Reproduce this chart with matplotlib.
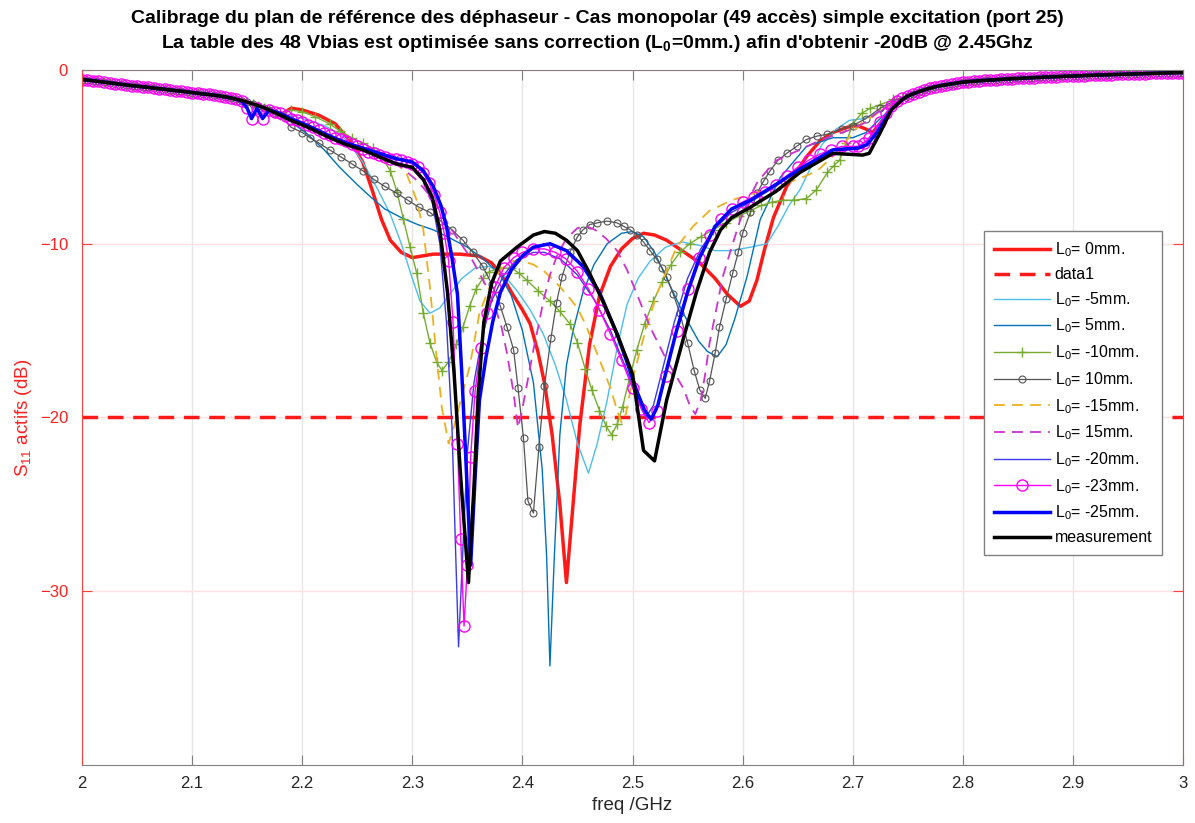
import numpy as np
import matplotlib
matplotlib.use('Agg')
import matplotlib.pyplot as plt
from matplotlib.ticker import FormatStrFormatter

plt.rcParams['font.family'] = ['Liberation Sans', 'DejaVu Sans']
plt.rcParams['mathtext.default'] = 'regular'

# partie commune a toutes les courbes (hors bande), pas de 5 MHz
f_left = np.round(np.arange(2.0, 2.1801, 0.005), 3)
s_left = [-0.55, -0.58, -0.62, -0.66, -0.7, -0.74, -0.78, -0.82, -0.86, -0.9, -0.93,
          -0.97, -1.0, -1.04, -1.08, -1.11, -1.15, -1.19, -1.22, -1.26, -1.3,
          -1.34, -1.38, -1.41, -1.45, -1.5, -1.55, -1.61, -1.68, -1.76, -1.85,
          -1.95, -2.05, -2.17, -2.3, -2.45, -2.6]
f_right = np.round(np.arange(2.75, 3.0001, 0.005), 3)
s_right = [-1.5, -1.37, -1.25, -1.15, -1.05, -0.97, -0.9, -0.85, -0.8, -0.75, -0.7,
           -0.67, -0.65, -0.62, -0.6, -0.58, -0.56, -0.54, -0.52, -0.5, -0.49,
           -0.47, -0.46, -0.44, -0.43, -0.41, -0.4, -0.39, -0.37, -0.36, -0.35,
           -0.34, -0.32, -0.31, -0.3, -0.29, -0.28, -0.27, -0.26, -0.25, -0.24,
           -0.23, -0.22, -0.21, -0.2, -0.19, -0.18, -0.17, -0.16, -0.15, -0.15]

# zone active : (freq GHz, S11 dB)
L0_0 = [(2.19, -2.2), (2.2, -2.3), (2.215, -2.6), (2.23, -3.1), (2.245, -4.2), (2.255, -5.3),
        (2.264, -7.0), (2.272, -8.6), (2.28, -9.8), (2.29, -10.5), (2.3, -10.8), (2.319, -10.6),
        (2.343, -10.6), (2.36, -10.7), (2.372, -11.1), (2.382, -11.9), (2.391, -12.9), (2.4, -13.8),
        (2.407, -14.6), (2.414, -16.2), (2.42, -18.0), (2.427, -21.0), (2.434, -25.0), (2.44, -29.5),
        (2.446, -25.0), (2.452, -20.5), (2.461, -15.8), (2.47, -13.0), (2.48, -11.3), (2.49, -10.3),
        (2.5, -9.7), (2.51, -9.4), (2.52, -9.5), (2.531, -9.8), (2.545, -10.4), (2.561, -11.1),
        (2.575, -12.0), (2.586, -12.9), (2.598, -13.6), (2.606, -13.3), (2.613, -12.1), (2.62, -10.3),
        (2.628, -8.5), (2.64, -6.7), (2.658, -5.0), (2.67, -4.1), (2.682, -3.6), (2.695, -3.3),
        (2.704, -3.2), (2.712, -3.4), (2.718, -3.6), (2.726, -3.0), (2.734, -2.3), (2.745, -1.7)]

L0_m5 = [(2.19, -2.6), (2.2, -2.8), (2.22, -3.2), (2.235, -3.7), (2.245, -4.4), (2.255, -5.3),
         (2.268, -6.8), (2.28, -8.3), (2.29, -10.0), (2.3, -12.0), (2.307, -13.3), (2.316, -14.0),
         (2.325, -13.7), (2.334, -12.9), (2.345, -12.0), (2.357, -11.4), (2.37, -11.3), (2.383, -11.8),
         (2.395, -12.7), (2.407, -13.8), (2.419, -15.2), (2.43, -17.0), (2.44, -19.0), (2.45, -21.5),
         (2.46, -23.2), (2.468, -21.5), (2.477, -19.0), (2.486, -16.0), (2.495, -13.5), (2.505, -12.0),
         (2.516, -11.0), (2.53, -10.2), (2.545, -9.9), (2.561, -10.1), (2.575, -10.4), (2.59, -10.4),
         (2.607, -10.2), (2.622, -10.0), (2.632, -9.0), (2.642, -7.8), (2.652, -6.9), (2.662, -5.6),
         (2.672, -4.3), (2.685, -3.4), (2.697, -2.9), (2.71, -2.8), (2.725, -2.4), (2.74, -1.8)]

L0_5 = [(2.19, -3.0), (2.205, -3.7), (2.22, -4.6), (2.234, -5.6), (2.25, -6.6), (2.262, -7.3),
        (2.275, -8.0), (2.29, -8.5), (2.305, -8.9), (2.319, -9.2), (2.335, -9.7), (2.35, -10.2),
        (2.365, -10.9), (2.38, -11.8), (2.39, -13.0), (2.4, -15.0), (2.41, -18.0), (2.418, -23.0),
        (2.422, -28.0), (2.425, -34.3), (2.429, -28.0), (2.434, -21.0), (2.44, -17.0), (2.446, -15.0),
        (2.455, -12.8), (2.465, -11.2), (2.477, -10.0), (2.49, -9.4), (2.5, -9.3), (2.51, -9.6),
        (2.52, -10.5), (2.531, -12.0), (2.546, -14.0), (2.56, -15.6), (2.568, -16.2), (2.577, -16.5),
        (2.585, -15.8), (2.593, -14.3), (2.604, -11.9), (2.616, -8.6), (2.634, -6.2), (2.658, -4.4),
        (2.682, -3.9), (2.7, -3.9), (2.712, -3.6), (2.725, -2.8), (2.74, -1.9)]

L0_m10 = [(2.19, -2.3), (2.2, -2.4), (2.212, -2.7), (2.225, -3.1), (2.234, -3.5), (2.245, -3.9),
          (2.255, -4.2), (2.264, -4.5), (2.272, -5.0), (2.28, -5.8), (2.286, -7.0), (2.292, -8.6),
          (2.298, -10.2), (2.304, -11.7), (2.31, -14.0), (2.316, -15.7), (2.322, -16.8), (2.327, -17.3),
          (2.333, -16.8), (2.34, -15.8), (2.346, -14.8), (2.352, -13.6), (2.358, -12.6), (2.364, -12.0),
          (2.37, -11.6), (2.38, -11.4), (2.39, -11.4), (2.397, -11.7), (2.404, -12.1), (2.414, -12.7),
          (2.425, -13.3), (2.434, -13.9), (2.443, -14.6), (2.45, -15.7), (2.457, -17.2), (2.463, -18.4),
          (2.47, -19.6), (2.476, -20.5), (2.481, -21.0), (2.486, -20.4), (2.491, -19.4), (2.497, -17.8),
          (2.504, -16.1), (2.511, -14.6), (2.519, -13.3), (2.527, -12.2), (2.535, -11.2), (2.543, -10.5),
          (2.552, -10.0), (2.562, -9.6), (2.573, -9.2), (2.585, -8.8), (2.597, -8.4), (2.607, -8.1),
          (2.617, -7.8), (2.627, -7.6), (2.637, -7.5), (2.647, -7.5), (2.658, -7.4), (2.667, -6.9),
          (2.677, -5.9), (2.683, -5.5), (2.688, -5.2), (2.694, -4.2), (2.7, -3.1), (2.708, -2.5),
          (2.716, -2.2), (2.725, -2.0), (2.737, -1.7), (2.745, -1.6)]

L0_10 = [(2.19, -3.3), (2.2, -3.6), (2.207, -3.9), (2.215, -4.2), (2.225, -4.6), (2.235, -5.0),
         (2.245, -5.4), (2.255, -5.8), (2.265, -6.3), (2.275, -6.7), (2.286, -7.1), (2.296, -7.5),
         (2.306, -7.9), (2.316, -8.2), (2.326, -8.7), (2.336, -9.2), (2.346, -9.8), (2.355, -10.5),
         (2.364, -11.3), (2.372, -12.3), (2.38, -13.6), (2.386, -14.8), (2.392, -16.1), (2.396, -18.3),
         (2.401, -21.2), (2.405, -24.8), (2.41, -25.5), (2.415, -21.7), (2.42, -18.2), (2.426, -15.4),
         (2.431, -13.4), (2.436, -11.9), (2.443, -10.5), (2.45, -9.6), (2.455, -9.2), (2.461, -8.9),
         (2.468, -8.8), (2.477, -8.7), (2.486, -8.8), (2.492, -9.0), (2.498, -9.2), (2.504, -9.5),
         (2.51, -9.9), (2.516, -10.4), (2.522, -10.9), (2.527, -11.4), (2.531, -11.9), (2.537, -12.9),
         (2.543, -14.0), (2.55, -15.7), (2.556, -17.3), (2.561, -18.4), (2.566, -18.9), (2.57, -17.9),
         (2.575, -16.3), (2.579, -14.8), (2.585, -13.2), (2.591, -11.7), (2.596, -10.5), (2.6, -9.4),
         (2.607, -8.2), (2.613, -7.1), (2.619, -6.4), (2.625, -5.8), (2.632, -5.2), (2.64, -4.8),
         (2.649, -4.4), (2.658, -4.0), (2.668, -3.8), (2.677, -3.7), (2.69, -3.4), (2.7, -3.2),
         (2.712, -2.8), (2.725, -2.2), (2.74, -1.7)]

L0_m15 = [(2.19, -2.9), (2.21, -3.4), (2.23, -4.0), (2.25, -4.5), (2.27, -4.9), (2.285, -5.3),
          (2.295, -6.0), (2.304, -7.5), (2.31, -9.2), (2.316, -12.5), (2.322, -16.5), (2.327, -19.5),
          (2.333, -21.5), (2.338, -20.5), (2.344, -19.0), (2.352, -17.1), (2.361, -14.0), (2.37, -12.5),
          (2.38, -11.5), (2.39, -11.0), (2.4, -11.0), (2.41, -11.2), (2.42, -11.6), (2.43, -12.2),
          (2.44, -12.9), (2.45, -13.7), (2.457, -14.6), (2.464, -15.7), (2.472, -17.0), (2.48, -18.3),
          (2.486, -19.6), (2.49, -20.3), (2.494, -19.8), (2.5, -17.8), (2.51, -15.4), (2.522, -12.9),
          (2.54, -10.2), (2.555, -9.0), (2.57, -8.1), (2.59, -7.5), (2.61, -7.1), (2.63, -6.7),
          (2.65, -6.3), (2.668, -5.8), (2.688, -4.6), (2.7, -3.6), (2.709, -3.0), (2.72, -2.6),
          (2.735, -2.0), (2.745, -1.7)]

L0_15 = [(2.19, -2.9), (2.21, -3.4), (2.23, -4.0), (2.25, -4.5), (2.27, -5.0), (2.29, -5.6),
         (2.305, -6.4), (2.318, -7.4), (2.33, -8.6), (2.342, -9.8), (2.355, -11.0), (2.366, -12.3),
         (2.375, -13.6), (2.381, -14.8), (2.386, -16.3), (2.392, -18.6), (2.396, -20.6), (2.4, -19.5),
         (2.405, -17.8), (2.41, -16.1), (2.415, -14.6), (2.419, -13.3), (2.425, -11.8), (2.432, -10.6),
         (2.44, -9.7), (2.45, -9.1), (2.458, -9.0), (2.466, -9.2), (2.476, -9.7), (2.486, -10.4),
         (2.495, -11.5), (2.504, -12.9), (2.516, -14.8), (2.531, -16.7), (2.546, -18.3), (2.552, -19.3),
         (2.557, -19.8), (2.562, -19.0), (2.566, -17.5), (2.57, -15.7), (2.576, -13.8), (2.582, -11.9),
         (2.59, -10.2), (2.598, -8.6), (2.606, -7.4), (2.613, -6.5), (2.622, -5.8), (2.631, -5.2),
         (2.641, -4.9), (2.652, -4.6), (2.665, -4.2), (2.677, -3.9), (2.69, -3.6), (2.7, -3.4),
         (2.712, -3.0), (2.725, -2.3), (2.74, -1.8)]

L0_m20 = [(2.19, -2.9), (2.21, -3.4), (2.23, -4.0), (2.25, -4.5), (2.27, -5.0), (2.29, -5.4),
          (2.3, -5.7), (2.31, -6.4), (2.318, -7.6), (2.325, -10.0), (2.331, -14.5), (2.336, -20.5),
          (2.339, -27.0), (2.342, -33.2), (2.346, -27.5), (2.35, -22.0), (2.356, -18.0), (2.363, -15.5),
          (2.372, -13.3), (2.383, -11.8), (2.395, -10.9), (2.41, -10.5), (2.42, -10.5), (2.435, -10.9),
          (2.45, -11.8), (2.465, -13.2), (2.48, -15.0), (2.495, -17.3), (2.505, -19.0), (2.512, -20.0),
          (2.519, -19.3), (2.527, -17.3), (2.538, -14.5), (2.55, -12.0), (2.562, -10.3), (2.575, -9.1),
          (2.59, -8.2), (2.607, -7.6), (2.63, -6.7), (2.652, -5.7), (2.68, -4.6), (2.705, -4.4),
          (2.713, -4.1), (2.722, -3.3), (2.735, -2.1), (2.745, -1.7)]

L0_m23 = [(2.145, -1.8), (2.15, -2.2), (2.154, -2.8), (2.159, -2.2), (2.164, -2.8), (2.17, -2.3),
          (2.175, -2.4), (2.18, -2.5), (2.185, -2.65), (2.19, -2.8), (2.195, -2.9), (2.2, -3.0),
          (2.205, -3.15), (2.21, -3.3), (2.215, -3.45), (2.22, -3.6), (2.225, -3.75), (2.23, -3.9),
          (2.235, -4.0), (2.24, -4.1), (2.245, -4.25), (2.25, -4.4), (2.255, -4.55), (2.26, -4.7),
          (2.265, -4.8), (2.27, -4.9), (2.275, -5.0), (2.28, -5.1), (2.285, -5.15), (2.29, -5.2),
          (2.295, -5.3), (2.3, -5.4), (2.305, -5.6), (2.31, -5.95), (2.315, -6.5), (2.32, -7.2),
          (2.325, -8.2), (2.329, -9.4), (2.333, -11.0), (2.337, -14.5), (2.341, -21.5), (2.344, -27.0),
          (2.347, -32.0), (2.35, -28.5), (2.353, -22.3), (2.357, -18.5), (2.362, -16.0), (2.368, -14.0),
          (2.375, -12.5), (2.383, -11.4), (2.392, -10.8), (2.4, -10.5), (2.41, -10.3), (2.42, -10.3),
          (2.43, -10.5), (2.44, -10.9), (2.45, -11.6), (2.46, -12.6), (2.47, -13.8), (2.48, -15.2),
          (2.49, -16.7), (2.5, -18.3), (2.508, -19.5), (2.515, -20.3), (2.522, -19.6), (2.53, -17.6),
          (2.54, -15.0), (2.55, -12.6), (2.56, -10.8), (2.57, -9.5), (2.58, -8.6), (2.59, -8.0),
          (2.6, -7.6), (2.61, -7.3), (2.62, -7.0), (2.63, -6.6), (2.64, -6.1), (2.65, -5.6),
          (2.66, -5.2), (2.67, -4.85), (2.68, -4.6), (2.69, -4.4), (2.7, -4.4), (2.705, -4.4),
          (2.71, -4.2), (2.715, -3.9), (2.72, -3.5), (2.725, -3.0), (2.73, -2.5), (2.735, -2.1),
          (2.74, -1.8), (2.745, -1.6)]

L0_m25 = [(2.145, -1.8), (2.15, -2.2), (2.154, -2.8), (2.159, -2.2), (2.164, -2.8), (2.17, -2.3),
          (2.18, -2.5), (2.19, -2.8), (2.205, -3.2), (2.225, -3.8), (2.24, -4.2), (2.255, -4.5),
          (2.27, -4.8), (2.285, -5.1), (2.3, -5.3), (2.31, -5.8), (2.319, -6.7), (2.326, -7.8),
          (2.331, -9.0), (2.336, -10.8), (2.341, -12.9), (2.345, -17.5), (2.349, -22.9), (2.353, -28.5),
          (2.357, -23.5), (2.361, -19.0), (2.367, -16.5), (2.373, -14.5), (2.38, -12.8), (2.39, -11.5),
          (2.4, -10.7), (2.41, -10.2), (2.425, -10.0), (2.44, -10.4), (2.455, -11.3), (2.47, -12.8),
          (2.486, -15.2), (2.496, -17.0), (2.504, -18.5), (2.511, -19.6), (2.517, -20.1), (2.523, -19.3),
          (2.53, -17.5), (2.54, -15.0), (2.55, -12.8), (2.561, -10.8), (2.575, -9.0), (2.59, -8.0),
          (2.607, -7.5), (2.63, -6.6), (2.652, -5.7), (2.682, -4.6), (2.705, -4.5), (2.713, -4.3),
          (2.722, -3.6), (2.735, -2.3), (2.745, -1.7)]

meas = [(2.19, -2.9), (2.205, -3.3), (2.225, -3.9), (2.24, -4.3), (2.255, -4.6), (2.27, -5.0),
        (2.285, -5.4), (2.3, -5.6), (2.31, -6.3), (2.318, -7.3), (2.325, -9.2), (2.332, -12.8),
        (2.338, -17.5), (2.344, -23.5), (2.351, -29.5), (2.356, -24.0), (2.36, -18.5), (2.365, -14.5),
        (2.372, -12.3), (2.38, -11.0), (2.395, -10.2), (2.41, -9.5), (2.42, -9.3), (2.43, -9.4),
        (2.44, -9.8), (2.45, -10.4), (2.461, -11.7), (2.473, -13.3), (2.486, -15.2), (2.5, -17.5),
        (2.51, -21.9), (2.52, -22.5), (2.531, -19.0), (2.546, -15.5), (2.558, -12.8), (2.57, -10.5),
        (2.58, -9.2), (2.59, -8.5), (2.607, -7.9), (2.63, -7.0), (2.652, -5.9), (2.682, -4.8),
        (2.709, -4.9), (2.715, -4.8), (2.725, -3.6), (2.735, -2.3), (2.745, -1.7)]

target_db = -20


def full_curve(mid):
    f_mid = np.array([p[0] for p in mid])
    s_mid = np.array([p[1] for p in mid])
    fl, sl = np.array(f_left), np.array(s_left)
    fr, sr = np.array(f_right), np.array(s_right)
    kl = fl < f_mid[0]
    kr = fr > f_mid[-1]
    f = np.concatenate([fl[kl], f_mid, fr[kr]])
    s = np.concatenate([sl[kl], s_mid, sr[kr]])
    return f, s


fig = plt.figure(figsize=(11.95, 8.23), dpi=100)
ax = fig.add_axes([0.0686, 0.0705, 0.9214, 0.8445])

red = '#FF1A1A'
f, s = full_curve(L0_0)
ax.plot(f, s, color=red, lw=2.5, label='L$_0$= 0mm.')
ax.plot([2.0, 3.0], [target_db, target_db], color=red, lw=2.5, dashes=(4.5, 2.8), label='data1')
f, s = full_curve(L0_m5)
ax.plot(f, s, color='#4DBEEE', lw=1.0, label='L$_0$= -5mm.')
f, s = full_curve(L0_5)
ax.plot(f, s, color='#0072BD', lw=1.0, label='L$_0$= 5mm.')
f, s = full_curve(L0_m10)
ax.plot(f, s, color='#77AC30', lw=1.0, marker='+', ms=7, mew=1.0, label='L$_0$= -10mm.')
f, s = full_curve(L0_10)
ax.plot(f, s, color='#555555', lw=0.9, marker='o', ms=5, mfc='none', mew=0.8, label='L$_0$= 10mm.')
f, s = full_curve(L0_m15)
ax.plot(f, s, color='#EDB120', lw=1.3, dashes=(6, 4), label='L$_0$= -15mm.')
f, s = full_curve(L0_15)
ax.plot(f, s, color='#CC33CC', lw=1.3, dashes=(6, 4), label='L$_0$= 15mm.')
f, s = full_curve(L0_m20)
ax.plot(f, s, color='#3A3AE6', lw=1.0, label='L$_0$= -20mm.')
f, s = full_curve(L0_m23)
ax.plot(f, s, color='#FF00FF', lw=1.0, marker='o', ms=8, mfc='none', mew=1.0, label='L$_0$= -23mm.')
f, s = full_curve(L0_m25)
ax.plot(f, s, color='#0000FF', lw=2.5, label='L$_0$= -25mm.')
f, s = full_curve(meas)
ax.plot(f, s, color='black', lw=2.5, label='measurement')

ax.set_xlim(2.0, 3.0)
ax.set_ylim(-40, 0)
ax.set_xticks(np.arange(2.0, 3.01, 0.1))
ax.xaxis.set_major_formatter(FormatStrFormatter('%g'))
ax.set_yticks([-30, -20, -10, 0])

ax.xaxis.grid(True, color='#e6e6e6', lw=1.0)
ax.yaxis.grid(True, color='#ffe0e0', lw=1.0)
ax.set_axisbelow(True)

for side in ['left', 'right']:
    ax.spines[side].set_color('#FF4040')
for side in ['top', 'bottom']:
    ax.spines[side].set_color('#808080')
ax.tick_params(axis='x', direction='in', length=7, top=True, colors='#808080',
               labelcolor='#262626', labelsize=12, pad=8)
ax.tick_params(axis='y', direction='in', length=7, right=True, colors='#FF4040',
               labelcolor='#FF2020', labelsize=12, pad=10)

ax.set_xlabel('freq /GHz', fontsize=13.5, color='#262626', labelpad=4)
ax.set_ylabel('S$_{11}$ actifs (dB)', fontsize=13.5, color='#FF2020', labelpad=4)

fig.text(0.5, 0.978, 'Calibrage du plan de référence des déphaseur - Cas monopolar (49 accès) simple excitation (port 25)',
         ha='center', va='center', fontsize=14, fontweight='bold')
fig.text(0.5, 0.947, "La table des 48 Vbias est optimisée sans correction (L$_0$=0mm.) afin d'obtenir -20dB @ 2.45Ghz",
         ha='center', va='center', fontsize=14, fontweight='bold')

leg = ax.legend(loc='upper right', bbox_to_anchor=(0.988, 0.78), fontsize=11.5, handlelength=3.5,
                handletextpad=0.3, labelspacing=0.5, borderpad=0.6, fancybox=False,
                framealpha=1, edgecolor='#808080')
leg.get_frame().set_linewidth(1.0)

fig.savefig('out.png', dpi=100)
